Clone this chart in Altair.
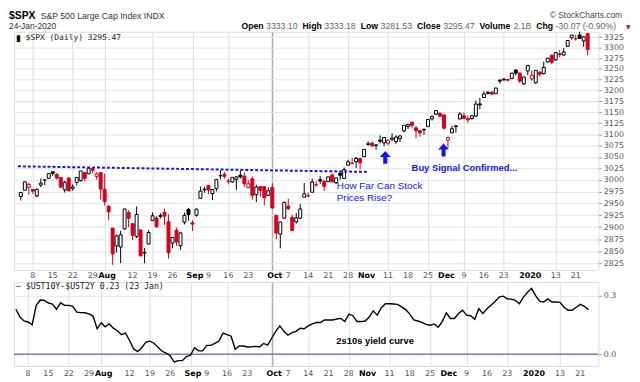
import altair as alt
import numpy as np
import pandas as pd

# ---------------- data ----------------
dates = [
    "2019-07-02", "2019-07-03", "2019-07-05", "2019-07-08", "2019-07-09", "2019-07-10", "2019-07-11", "2019-07-12",
    "2019-07-15", "2019-07-16", "2019-07-17", "2019-07-18", "2019-07-19", "2019-07-22", "2019-07-23", "2019-07-24",
    "2019-07-25", "2019-07-26", "2019-07-29", "2019-07-30", "2019-07-31",
    "2019-08-01", "2019-08-02", "2019-08-05", "2019-08-06", "2019-08-07", "2019-08-08", "2019-08-09", "2019-08-12",
    "2019-08-13", "2019-08-14", "2019-08-15", "2019-08-16", "2019-08-19", "2019-08-20", "2019-08-21", "2019-08-22",
    "2019-08-23", "2019-08-26", "2019-08-27", "2019-08-28", "2019-08-29", "2019-08-30",
    "2019-09-03", "2019-09-04", "2019-09-05", "2019-09-06", "2019-09-09", "2019-09-10", "2019-09-11", "2019-09-12",
    "2019-09-13", "2019-09-16", "2019-09-17", "2019-09-18", "2019-09-19", "2019-09-20", "2019-09-23", "2019-09-24",
    "2019-09-25", "2019-09-26", "2019-09-27", "2019-09-30",
    "2019-10-01", "2019-10-02", "2019-10-03", "2019-10-04", "2019-10-07", "2019-10-08", "2019-10-09", "2019-10-10",
    "2019-10-11", "2019-10-14", "2019-10-15", "2019-10-16", "2019-10-17", "2019-10-18", "2019-10-21", "2019-10-22",
    "2019-10-23", "2019-10-24", "2019-10-25", "2019-10-28", "2019-10-29", "2019-10-30", "2019-10-31",
    "2019-11-01", "2019-11-04", "2019-11-05", "2019-11-06", "2019-11-07", "2019-11-08", "2019-11-11", "2019-11-12",
    "2019-11-13", "2019-11-14", "2019-11-15", "2019-11-18", "2019-11-19", "2019-11-20", "2019-11-21", "2019-11-22",
    "2019-11-25", "2019-11-26", "2019-11-27", "2019-11-29",
    "2019-12-02", "2019-12-03", "2019-12-04", "2019-12-05", "2019-12-06", "2019-12-09", "2019-12-10", "2019-12-11",
    "2019-12-12", "2019-12-13", "2019-12-16", "2019-12-17", "2019-12-18", "2019-12-19", "2019-12-20", "2019-12-23",
    "2019-12-24", "2019-12-26", "2019-12-27", "2019-12-30", "2019-12-31",
    "2020-01-02", "2020-01-03", "2020-01-06", "2020-01-07", "2020-01-08", "2020-01-09", "2020-01-10", "2020-01-13",
    "2020-01-14", "2020-01-15", "2020-01-16", "2020-01-17", "2020-01-21", "2020-01-22", "2020-01-23", "2020-01-24",
]

opens = [
    2964.66, 2978.08, 2984.25, 2979.77, 2965.52, 2989.30, 2999.62, 3003.36, 3017.80, 3012.13, 3005.10, 2978.87,
    3004.26, 2981.93, 2994.74, 2998.77, 3016.26, 3013.25, 3024.47, 3007.66, 3016.22,
    2980.32, 2943.90, 2898.07, 2861.18, 2858.65, 2896.21, 2930.51, 2907.07, 2880.72, 2894.15, 2846.20, 2864.74,
    2913.48, 2919.01, 2922.04, 2930.94, 2911.07, 2866.70, 2893.14, 2861.28, 2910.37, 2937.09,
    2909.01, 2924.67, 2960.60, 2980.33, 2988.43, 2971.01, 2981.41, 3009.08, 3012.21, 2996.41, 2995.67, 3001.50,
    3010.36, 3008.42, 2983.50, 3002.43, 2968.35, 2985.73, 2985.47, 2967.07,
    2983.69, 2924.78, 2885.38, 2918.56, 2944.23, 2920.40, 2911.10, 2918.55, 2963.07, 2965.81, 2973.61, 2989.68,
    3000.77, 2996.84, 2996.48, 3010.73, 2994.01, 3014.78, 3003.32, 3032.12, 3035.39, 3039.74, 3046.90,
    3050.72, 3078.96, 3080.80, 3075.10, 3087.02, 3081.25, 3080.33, 3089.28, 3084.18, 3090.75, 3107.92, 3117.91,
    3127.45, 3114.66, 3108.49, 3111.41, 3117.44, 3134.85, 3145.49, 3147.18,
    3143.85, 3087.41, 3103.50, 3119.21, 3134.62, 3141.86, 3135.36, 3135.75, 3141.23, 3166.65, 3183.63, 3195.40,
    3195.21, 3192.32, 3223.33, 3226.05, 3225.45, 3227.20, 3247.23, 3240.09, 3215.18,
    3244.67, 3226.36, 3217.55, 3241.86, 3238.59, 3266.03, 3281.81, 3271.13, 3285.35, 3282.27, 3302.97, 3323.66,
    3321.03, 3330.02, 3315.77, 3333.10,
]

highs = [
    2973.21, 2995.84, 2994.03, 2980.76, 2981.90, 3002.98, 3002.33, 3013.92, 3017.80, 3015.02, 3005.26, 2998.28,
    3006.02, 2990.71, 3005.90, 3019.59, 3016.31, 3027.98, 3025.61, 3017.19, 3017.40,
    3013.59, 2945.50, 2898.07, 2884.40, 2892.17, 2938.72, 2935.75, 2907.58, 2943.31, 2894.15, 2856.67, 2893.63,
    2931.00, 2923.63, 2928.73, 2939.08, 2927.01, 2879.27, 2898.79, 2890.03, 2930.50, 2940.43,
    2914.39, 2938.84, 2985.86, 2985.03, 2989.43, 2979.39, 3000.93, 3020.74, 3017.33, 3002.19, 3006.21, 3007.83,
    3021.19, 3016.37, 2999.15, 3007.98, 2989.82, 2987.28, 2987.31, 2983.85,
    2992.53, 2924.78, 2911.13, 2953.74, 2959.75, 2925.47, 2929.32, 2948.46, 2993.28, 2972.84, 3003.28, 2997.54,
    3008.29, 3000.00, 3007.33, 3014.57, 3004.78, 3016.07, 3027.39, 3044.08, 3047.87, 3050.10, 3046.90,
    3066.95, 3085.20, 3083.95, 3078.34, 3097.77, 3093.09, 3088.33, 3102.61, 3098.06, 3098.20, 3120.46, 3124.17,
    3127.64, 3118.97, 3110.11, 3112.87, 3133.83, 3142.69, 3154.26, 3150.30,
    3144.31, 3094.97, 3119.38, 3119.45, 3150.60, 3148.87, 3142.12, 3143.98, 3176.28, 3182.68, 3197.71, 3198.22,
    3198.48, 3205.48, 3225.65, 3227.78, 3226.43, 3240.08, 3247.93, 3240.92, 3231.72,
    3258.14, 3246.15, 3246.84, 3244.91, 3267.07, 3275.58, 3282.99, 3288.13, 3294.25, 3298.66, 3317.11, 3329.88,
    3329.79, 3337.77, 3326.88, 3333.18,
]

lows = [
    2955.92, 2977.96, 2967.97, 2970.09, 2963.44, 2984.62, 2988.80, 3001.87, 3008.77, 3001.15, 2984.25, 2973.09,
    2975.86, 2976.65, 2988.56, 2996.82, 2997.24, 3012.59, 3014.30, 3000.94, 2958.08,
    2945.23, 2914.11, 2822.12, 2847.42, 2825.71, 2894.47, 2900.15, 2873.14, 2877.05, 2839.64, 2825.51, 2864.74,
    2913.48, 2899.60, 2917.91, 2904.51, 2834.97, 2856.00, 2860.59, 2853.05, 2905.67, 2913.32,
    2891.85, 2921.86, 2960.60, 2972.51, 2969.39, 2957.01, 2975.31, 3000.92, 3002.90, 2990.67, 2993.73, 2978.57,
    3003.16, 2984.68, 2982.23, 2957.73, 2952.86, 2963.71, 2945.53, 2967.07,
    2938.70, 2874.93, 2855.94, 2918.56, 2935.68, 2892.66, 2907.41, 2917.12, 2963.07, 2962.94, 2973.61, 2985.20,
    2991.79, 2976.31, 2995.35, 2995.04, 2991.21, 3000.42, 3001.94, 3032.12, 3034.81, 3025.96, 3023.19,
    3050.72, 3074.87, 3072.15, 3065.89, 3080.23, 3073.58, 3075.82, 3084.73, 3078.80, 3083.26, 3104.60, 3112.06,
    3113.47, 3091.41, 3094.55, 3099.26, 3117.44, 3131.00, 3143.41, 3139.34,
    3110.78, 3070.33, 3102.53, 3103.76, 3134.62, 3135.46, 3126.09, 3133.21, 3138.47, 3156.51, 3183.63, 3191.03,
    3191.14, 3191.72, 3216.03, 3222.30, 3220.51, 3227.20, 3234.37, 3216.57, 3212.03,
    3235.53, 3222.34, 3214.64, 3232.43, 3236.67, 3263.67, 3260.86, 3268.43, 3277.19, 3280.69, 3302.82, 3318.86,
    3316.61, 3320.04, 3301.87, 3281.53,
]

closes = [
    2973.01, 2995.82, 2990.41, 2975.95, 2979.63, 2993.07, 2999.91, 3013.77, 3014.30, 3004.04, 2984.42, 2995.11,
    2976.61, 2985.03, 3005.47, 3019.56, 3003.67, 3025.86, 3020.97, 3013.18, 2980.38,
    2953.56, 2932.05, 2844.74, 2881.77, 2883.98, 2938.09, 2918.65, 2882.70, 2926.32, 2840.60, 2847.60, 2888.68,
    2923.65, 2900.51, 2924.43, 2922.95, 2847.11, 2878.38, 2869.16, 2887.94, 2924.58, 2926.46,
    2906.27, 2937.78, 2976.00, 2978.71, 2978.43, 2979.39, 3000.93, 3009.57, 3007.39, 2997.96, 3005.70, 3006.73,
    3006.79, 2992.07, 2991.78, 2966.60, 2984.87, 2977.62, 2961.79, 2976.74,
    2940.25, 2887.61, 2910.63, 2952.01, 2938.79, 2893.06, 2919.40, 2938.13, 2970.27, 2966.15, 2995.68, 2989.69,
    2997.95, 2986.20, 3006.72, 2995.99, 3004.52, 3010.29, 3022.55, 3039.42, 3036.89, 3046.77, 3037.56,
    3066.91, 3078.27, 3074.62, 3076.78, 3085.18, 3093.08, 3087.01, 3091.84, 3094.04, 3096.63, 3120.46, 3122.03,
    3120.18, 3108.46, 3103.54, 3110.29, 3133.64, 3140.52, 3153.63, 3140.98,
    3113.87, 3093.20, 3112.76, 3117.43, 3145.91, 3135.96, 3132.52, 3141.63, 3168.57, 3168.80, 3191.45, 3192.52,
    3191.14, 3205.37, 3221.22, 3224.01, 3223.38, 3239.91, 3240.02, 3221.29, 3230.78,
    3257.85, 3234.85, 3246.28, 3237.18, 3253.05, 3274.70, 3265.35, 3288.13, 3283.15, 3289.29, 3316.81, 3329.62,
    3320.79, 3321.75, 3325.54, 3295.47,
]
PREV_CLOSE = 2964.33  # close of 1 Jul 2019, decides the colour of the first candle

# $UST10Y - $UST2Y (2 Jul 2019 .. 23 Jan 2020)
yield_spread = [
    0.230, 0.190, 0.170, 0.165, 0.150, 0.250, 0.277, 0.275, 0.262, 0.256, 0.230, 0.263, 0.250, 0.250, 0.245,
    0.215, 0.213, 0.212, 0.206, 0.195, 0.130,
    0.160, 0.140, 0.155, 0.133, 0.120, 0.100, 0.108, 0.070, 0.027, 0.013, 0.033, 0.062, 0.067, 0.056, 0.035,
    0.015, 0.006, -0.008, -0.040, -0.033, -0.033, -0.012,
    -0.005, 0.033, 0.017, 0.017, 0.045, 0.045, 0.055, 0.067, 0.108, 0.100, 0.092, 0.025, 0.042, 0.042, 0.037,
    0.038, 0.040, 0.037, 0.055, 0.047,
    0.083, 0.117, 0.145, 0.117, 0.097, 0.110, 0.117, 0.133, 0.130, 0.145, 0.155, 0.163, 0.162, 0.175, 0.175,
    0.175, 0.180, 0.183, 0.167, 0.205, 0.197, 0.167, 0.167,
    0.170, 0.190, 0.222, 0.200, 0.238, 0.258, 0.258, 0.257, 0.255, 0.242, 0.228, 0.205, 0.175, 0.170, 0.163,
    0.153, 0.148, 0.155, 0.138, 0.167,
    0.212, 0.183, 0.183, 0.208, 0.225, 0.200, 0.197, 0.178, 0.233, 0.208, 0.233, 0.250, 0.270, 0.292, 0.297,
    0.283, 0.282, 0.275, 0.258, 0.292, 0.317,
    0.337, 0.300, 0.270, 0.267, 0.283, 0.267, 0.267, 0.265, 0.240, 0.225, 0.225, 0.240, 0.255, 0.245, 0.228,
]

tick_idx = [3, 8, 13, 18, 21, 28, 33, 38, 43, 47, 52, 57, 63, 67, 72, 77, 82, 86, 92, 97, 102, 106, 111, 116,
            121, 127, 134, 139]
tick_labels = ["8", "15", "22", "29", "Aug", "12", "19", "26", "Sep", "9", "16", "23", "Oct", "7", "14", "21",
               "28", "Nov", "11", "18", "25", "Dec", "9", "16", "23", "2020", "13", "21"]
month_idx = [21, 43, 63, 86, 106, 127]
quarter_idx = [63, 127]
price_ticks = [2825, 2850, 2875, 2900, 2925, 2950, 2975, 3000, 3025, 3050, 3075, 3100, 3125, 3150, 3175, 3200,
               3225, 3250, 3275, 3300, 3325]
spread_ticks = [0.0, 0.1, 0.2, 0.3]

# annotations (data coordinates)
trend_i = [-0.73, 87.2]
trend_v = [3029.7, 3017.5]
arrow_i = [91.3, 105.9]
arrow_v = [3049.1, 3065.4]

# ---------------- styling ----------------
RED = "#d4001c"
BLUE = "#1414f0"
W, H_TOP, H_BOT = 591, 241, 85
ARROW = "M0,-1L0.85,-0.08L0.32,-0.08L0.32,1L-0.32,1L-0.32,-0.08L-0.85,-0.08Z"

df = pd.DataFrame(dict(i=range(len(dates)), date=dates, open=opens, high=highs, low=lows, close=closes))
df["prev"] = df["close"].shift(1).fillna(PREV_CLOSE)
df["col"] = np.where(df["close"] < df["prev"], RED, "#000000")
df["fill"] = np.where(df["close"] < df["open"], df["col"], "#ffffff")
ys = pd.DataFrame(dict(i=range(len(yield_spread)), v=yield_spread))
ticks_df = pd.DataFrame(dict(i=tick_idx, t=tick_labels))
ticks_df["month"] = ticks_df["i"].isin(month_idx)

quarter_test = "indexof([" + ",".join(map(str, quarter_idx)) + "], datum.value) >= 0"

x_scale = alt.Scale(domain=[-0.487, 143.45], nice=False, zero=False)

x_axis = alt.Axis(
    values=tick_idx, labels=False, ticks=False, domain=False, title=None, grid=True,
    gridColor={"condition": {"test": quarter_test, "value": "#b0b0b0"}, "value": "#dedede"},
    gridWidth={"condition": {"test": quarter_test, "value": 1.6}, "value": 1},
)


def y_axis(values, fmt):
    return alt.Axis(orient="right", values=values, format=fmt, title=None, grid=True, gridColor="#e4e4e4",
                    tickSize=3, tickColor="#999999", domain=False, labelFontSize=8, labelFont="DejaVu Sans",
                    labelColor="#555555", labelPadding=2)


def date_labels(ypix):
    norm = alt.Chart(ticks_df[~ticks_df["month"]]).mark_text(
        baseline="middle", fontSize=8, font="DejaVu Sans", color="#555555"
    ).encode(x="i:Q", y=alt.value(ypix), text="t:N")
    bold = alt.Chart(ticks_df[ticks_df["month"]]).mark_text(
        baseline="middle", fontSize=8, font="DejaVu Sans", fontWeight="bold", color="#000000", dx=2.5
    ).encode(x="i:Q", y=alt.value(ypix), text="t:N")
    return [norm, bold]


def txt(s, x, y, size=9, weight="normal", color="#000000", font="Liberation Sans", align="left",
        baseline="top"):
    return alt.Chart(pd.DataFrame({"t": [s]})).mark_text(
        align=align, baseline=baseline, fontSize=size, fontWeight=weight, color=color, font=font
    ).encode(text="t:N", x=alt.value(x), y=alt.value(y))


def note(s, i, v, size, weight, color):
    return alt.Chart(pd.DataFrame({"i": [i], "v": [v], "t": [s]})).mark_text(
        align="left", baseline="middle", fontSize=size, fontWeight=weight, color=color, font="Liberation Sans"
    ).encode(x="i:Q", y="v:Q", text="t:N")


# ---------------- top panel ----------------
y_top = alt.Scale(type="log", domain=[2811.5, 3337.6], nice=False)

wicks = alt.Chart(df).mark_rule(strokeWidth=1).encode(
    x=alt.X("i:Q", scale=x_scale, axis=x_axis),
    y=alt.Y("low:Q", scale=y_top, axis=y_axis(price_ticks, "d")),
    y2="high:Q",
    color=alt.Color("col:N", scale=None),
)
bodies = alt.Chart(df).mark_bar(size=3, strokeWidth=1).encode(
    x="i:Q", y="open:Q", y2="close:Q",
    fill=alt.Fill("fill:N", scale=None), stroke=alt.Stroke("col:N", scale=None),
)
trend = alt.Chart(pd.DataFrame({"i": trend_i, "v": trend_v})).mark_line(
    color=BLUE, strokeWidth=2, strokeDash=[3, 2]
).encode(x="i:Q", y="v:Q")
arrows = alt.Chart(pd.DataFrame({"i": arrow_i, "v": arrow_v})).mark_point(
    shape=ARROW, size=169, filled=True, color=BLUE, opacity=1
).encode(x="i:Q", y="v:Q")

# header line pieces (bold labels, grey values)
BOLDW = {"O": .778, "p": .611, "e": .556, "n": .611, "H": .722, "i": .278, "g": .611, "h": .611, "L": .611,
         "o": .611, "w": .778, "C": .722, "l": .278, "s": .556, "V": .667, "u": .611, "m": .889}
REGW = {".": .278, " ": .278, "-": .333, "(": .333, ")": .333, "%": .889, "B": .667}
pieces = [("Open", "3333.10"), ("High", "3333.18"), ("Low", "3281.53"), ("Close", "3295.47"),
          ("Volume", "2.1B"), ("Chg", "-30.07 (-0.90%)")]
FS = 8.8
LINE2 = -10
hx = 230.0
header = []
for lab, val in pieces:
    header.append(txt(lab, hx, LINE2, FS, "bold", "#000000"))
    hx += sum(BOLDW.get(c, .6) for c in lab) * FS + 2.5
    header.append(txt(val, hx, LINE2, FS, "normal", "#666666"))
    hx += sum(REGW.get(c, .556) for c in val) * FS + 5

top = alt.layer(
    wicks, bodies, trend, arrows,
    *date_labels(H_TOP + 6),
    note("How Far Can Stock", 79.15, 2986.8, 10, "normal", BLUE),
    note("Prices Rise?", 79.15, 2961.4, 10, "normal", BLUE),
    note("Buy Signal Confirmed...", 97.9, 3025.3, 9.5, "bold", BLUE),
    txt("$SPX", -5, -21, 10.5, "bold", "#000000"),
    txt("S&P 500 Large Cap Index INDX", 27, -20, 8.8, "normal", "#333333"),
    txt("\u00a9 StockCharts.com", 615, -21, 8.5, "normal", "#444444", align="right"),
    txt("24-Jan-2020", -5, LINE2, 8.5, "normal", "#333333"),
    *header,
    txt("\u25bc", 619, LINE2 + 2, 6, "normal", RED, font="DejaVu Sans"),
    txt("\u25ae", 2, 6, 9, "normal", "#000000", font="DejaVu Sans", baseline="middle"),
    txt("$SPX (Daily) 3295.47", 12, 6, 8, "normal", "#222222", font="DejaVu Sans Mono", baseline="middle"),
).properties(width=W, height=H_TOP)

# ---------------- bottom panel ----------------
y_bot = alt.Scale(domain=[-0.0607, 0.3693], nice=False, zero=False)
spread_line = alt.Chart(ys).mark_line(color="#000000", strokeWidth=1.4).encode(
    x=alt.X("i:Q", scale=x_scale, axis=x_axis),
    y=alt.Y("v:Q", scale=y_bot, axis=y_axis(spread_ticks, ".1f")),
)
zero_line = alt.Chart(pd.DataFrame({"v": [0.0]})).mark_rule(color="#7c7cb4", strokeWidth=1.5).encode(y="v:Q")

bottom = alt.layer(
    zero_line, spread_line,
    *date_labels(H_BOT + 8),
    note("2s10s yield curve", 78.9, 0.0658, 9.5, "bold", "#000000"),
    txt("\u2014 $UST10Y-$UST2Y 0.23 (23 Jan)", 2, 5, 8.3, "normal", "#222222", font="DejaVu Sans Mono",
        baseline="middle"),
).properties(width=W, height=H_BOT)

chart = alt.vconcat(top, bottom, spacing=12, bounds="flush").properties(
    padding={"left": 0, "top": 0, "right": 0, "bottom": 0}
).configure_view(stroke="#9a9a9a").configure(font="Liberation Sans")

chart.save("out.html", embed_options={"renderer": "svg", "actions": False})
